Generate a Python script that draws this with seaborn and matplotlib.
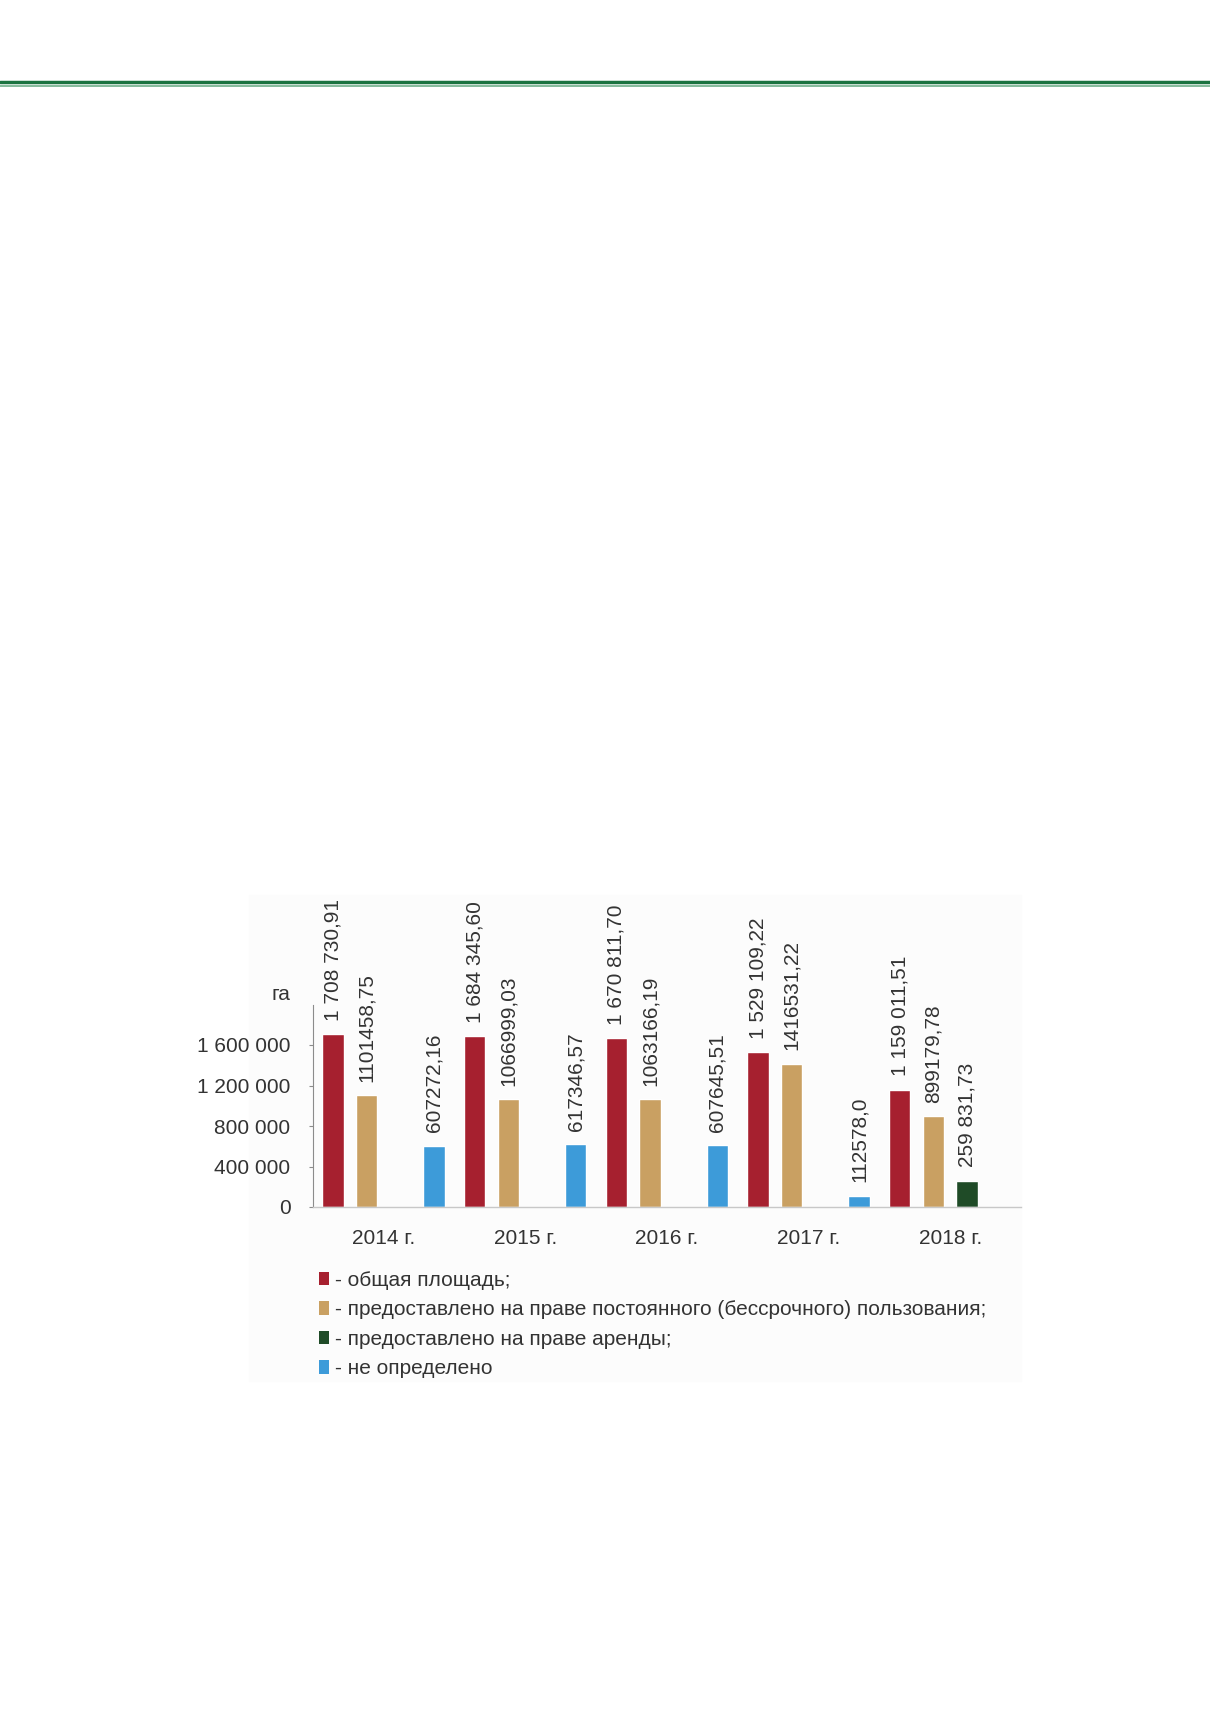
import pandas as pd
import seaborn as sns
import matplotlib.pyplot as plt
from matplotlib.patches import Patch, Rectangle
from matplotlib.lines import Line2D

# Данные диаграммы
years = ['2014 г.', '2015 г.', '2016 г.', '2017 г.', '2018 г.']
series = ['total', 'permanent', 'lease', 'undefined']
legend_labels = ['- общая площадь;',
                 '- предоставлено на праве постоянного (бессрочного) пользования;',
                 '- предоставлено на праве аренды;',
                 '- не определено']
colors = ['#A6202F', '#C9A062', '#1F4B27', '#3D9BD9']

total_lbl = ['1 708 730,91', '1 684 345,60', '1 670 811,70', '1 529 109,22', '1 159 011,51']
permanent_lbl = ['1101458,75', '1066999,03', '1063166,19', '1416531,22', '899179,78']
lease_lbl = [None, None, None, None, '259 831,73']
undefined_lbl = ['607272,16', '617346,57', '607645,51', '112578,0', None]

yticks = [0, 400000, 800000, 1200000, 1600000]
ytick_labels = ['0', '400 000', '800 000', '1 200 000', '1 600 000']

# Таблица в длинном формате
rows = []
for s, lbls in zip(series, [total_lbl, permanent_lbl, lease_lbl, undefined_lbl]):
    for y, l in zip(years, lbls):
        if l is not None:
            rows.append({'year': y, 'series': s, 'label': l,
                         'value': float(l.replace(' ', '').replace(',', '.'))})
df = pd.DataFrame(rows)

sns.set_style('white')
plt.rcParams['font.family'] = ['Liberation Sans', 'DejaVu Sans']
text_color = '#333333'

fig = plt.figure(figsize=(12.1, 17.12), dpi=100)
ax = fig.add_axes([312.7 / 1210, 1 - 1207 / 1712, (1021 - 312.7) / 1210, (1207 - 1004.5) / 1712])
ax.set_facecolor('none')

# светлая подложка под диаграммой
fig.add_artist(Rectangle((249 / 1210, 1 - 1381 / 1712), (1021 - 249) / 1210, (1381 - 895) / 1712,
                         transform=fig.transFigure, color='#FCFCFC', zorder=-5))

# зеленые линии сверху
fig.add_artist(Line2D([0, 1], [1 - 81.5 / 1712] * 2, transform=fig.transFigure, color='#1B7340', lw=2.5))
fig.add_artist(Line2D([0, 1], [1 - 85.6 / 1712] * 2, transform=fig.transFigure, color='#6FAF8A', lw=1.2))

sns.barplot(data=df, x='year', y='value', hue='series', order=years, hue_order=series,
            palette=dict(zip(series, colors)), width=0.95, gap=0.36, saturation=1,
            errorbar=None, legend=False, ax=ax)

for s, cont in zip(series, ax.containers):
    lbls = df.loc[df['series'] == s, 'label'].tolist()
    ax.bar_label(cont, labels=lbls, rotation=90, padding=9.5, fontsize=15, color=text_color)

ax.set_xlim(-0.5, 4.5)
ax.set_ylim(0, 2000000)
ax.set_yticks(yticks)
ax.set_yticklabels(ytick_labels)
ax.set_xlabel('')
ax.set_ylabel('')
ax.tick_params(axis='y', length=3, width=0.8, color='#8C8C8C', pad=13, labelsize=15, labelcolor=text_color, left=True)
ax.tick_params(axis='x', length=0, pad=16, labelsize=15, labelcolor=text_color)
for side in ['top', 'right']:
    ax.spines[side].set_visible(False)
ax.spines['left'].set_color('#8C8C8C')
ax.spines['left'].set_linewidth(0.8)
ax.spines['bottom'].set_color('#C8C8C8')
ax.spines['bottom'].set_linewidth(1.0)

ax.annotate('га', xy=(0, 2000000), xycoords=('axes fraction', 'data'), xytext=(-16.3, 3.2),
            textcoords='offset points', ha='right', va='baseline', fontsize=15, color=text_color)

handles = [Patch(facecolor=c, edgecolor='none') for c in colors]
ax.legend(handles, legend_labels, loc='upper left', bbox_to_anchor=(319 / 1210, 1 - 1271 / 1712),
          bbox_transform=fig.transFigure, frameon=False, fontsize=15, handlelength=0.5,
          handleheight=0.62, handletextpad=0.25, labelspacing=0.5, borderpad=0, borderaxespad=0,
          labelcolor=text_color)

fig.savefig('out.png', dpi=100)
